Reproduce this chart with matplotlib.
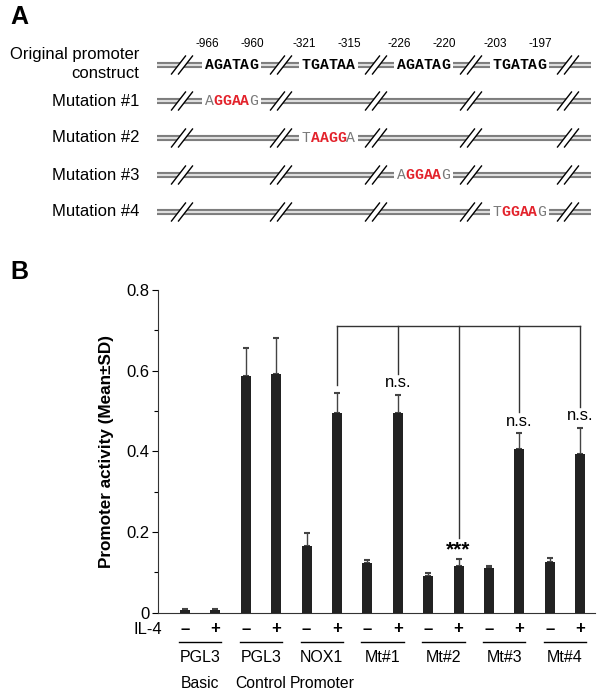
import matplotlib
matplotlib.use('Agg')
import matplotlib.pyplot as plt
from matplotlib.patches import Polygon, Rectangle
from matplotlib.transforms import blended_transform_factory
import numpy as np

plt.rcParams['font.family'] = ['Liberation Sans', 'DejaVu Sans']

# ---------------- data ----------------
groups = ['PGL3', 'PGL3', 'NOX1', 'Mt#1', 'Mt#2', 'Mt#3', 'Mt#4']
sublabels = ['Basic', 'Control', 'Promoter', '', '', '', '']
il4_signs = ['\u2013', '+']
mean_minus = [0.006, 0.587, 0.166, 0.122, 0.091, 0.110, 0.126]
mean_plus = [0.007, 0.592, 0.496, 0.494, 0.117, 0.407, 0.393]
sd_minus = [0.003, 0.069, 0.031, 0.009, 0.007, 0.005, 0.010]
sd_plus = [0.003, 0.090, 0.049, 0.045, 0.016, 0.038, 0.066]

bracket_level = 0.711
bracket_bars = [5, 7, 9, 11, 13]
bracket_ends = [0.564, 0.592, 0.185, 0.497, 0.510]
sig_bars = [7, 9, 11, 13]
sig_text = ['n.s.', '***', 'n.s.', 'n.s.']
sig_y = [0.570, 0.155, 0.475, 0.488]

row_labels = ['Original promoter\nconstruct', 'Mutation #1', 'Mutation #2',
              'Mutation #3', 'Mutation #4']
orig_seqs = ['AGATAG', 'TGATAA', 'AGATAG', 'TGATAG']
mut_seqs = ['AGGAAG', 'TAAGGA', 'AGGAAG', 'TGGAAG']
positions = [('-966', '-960'), ('-321', '-315'), ('-226', '-220'), ('-203', '-197')]

# ---------------- figure ----------------
W, H = 600, 690
fig = plt.figure(figsize=(6, 6.9), dpi=100)
bg = fig.add_axes([0, 0, 1, 1])
bg.set_xlim(0, W)
bg.set_ylim(H, 0)
bg.axis('off')

# ---------- Panel A (schematic) ----------
bg.text(10, 17, 'A', fontsize=18, fontweight='bold', va='center', ha='left')
bg.text(10, 272, 'B', fontsize=18, fontweight='bold', va='center', ha='left')

row_y = [65, 101, 138, 175, 212]
label_y = [64, 101, 137, 175, 212]
line_x0, line_x1 = 157, 591
breaks = [182, 281, 376, 471, 568]
seg_start = [205, 302, 397, 493]
cw = 8.85  # monospace char width (px)
red = '#e3222b'
grey = '#7a7a7a'

for r, y in enumerate(row_y):
    lab = row_labels[r]
    if r == 0:
        bg.text(139, 55, 'Original promoter', fontsize=12, ha='right', va='center')
        bg.text(139, 74, 'construct', fontsize=12, ha='right', va='center')
    else:
        bg.text(139, label_y[r], lab, fontsize=12, ha='right', va='center')
    # double line
    bg.plot([line_x0, line_x1], [y, y], color='#7d7d7d', lw=4.4, solid_capstyle='butt', zorder=2)
    bg.plot([line_x0, line_x1], [y, y], color='#dedede', lw=1.5, solid_capstyle='butt', zorder=3)
    # break marks
    for c in breaks:
        poly = Polygon([(c - 10.5, y + 8), (c + 3.5, y - 8), (c + 10.5, y - 8), (c - 3.5, y + 8)],
                       closed=True, facecolor='white', edgecolor='none', zorder=4)
        bg.add_patch(poly)
        for dx in (-7, 0):
            bg.plot([c - 3.5 + dx, c + 10.5 + dx], [y + 9, y - 9], color='black', lw=1.0, zorder=5)
    # sequences
    for s in range(4):
        if r == 0:
            seq = orig_seqs[s]
            cols = ['black'] * 6
            weights = ['bold'] * 6
        elif r - 1 == s:
            seq = mut_seqs[s]
            cols = [grey, red, red, red, red, grey]
            weights = ['normal', 'bold', 'bold', 'bold', 'bold', 'normal']
        else:
            continue
        x0 = seg_start[s]
        bg.add_patch(Rectangle((x0 - 3, y - 5), 6 * cw + 6, 10, facecolor='white',
                               edgecolor='none', zorder=4))
        for i, ch in enumerate(seq):
            bg.text(x0 + (i + 0.5) * cw, y, ch, fontsize=10.6, color=cols[i],
                    fontweight=weights[i], family='Liberation Mono',
                    ha='center', va='center', zorder=6)
        if r == 0:
            cen = x0 + 3 * cw
            bg.text(cen - 24, 44, positions[s][0], fontsize=8.5, ha='center', va='center')
            bg.text(cen + 21, 44, positions[s][1], fontsize=8.5, ha='center', va='center')

# ---------- Panel B (bar chart) ----------
y0_pix, y8_pix = 612.7, 290
ax = fig.add_axes([158 / W, 1 - y0_pix / H, (595 - 158) / W, (y0_pix - y8_pix) / H])
n = len(groups)
x = np.arange(2 * n)
vals = np.ravel(np.column_stack([mean_minus, mean_plus]))
sds = np.ravel(np.column_stack([sd_minus, sd_plus]))

ax.bar(x, vals, width=0.33, color='#222222', zorder=3)
ax.errorbar(x, vals, yerr=[np.zeros_like(sds), sds], fmt='none', ecolor='#444444',
            elinewidth=1, capsize=2.2, capthick=1.5, zorder=2)

ax.set_xlim(-0.889, 13.49)
ax.set_ylim(0, 0.8)
ax.spines['top'].set_visible(False)
ax.spines['right'].set_visible(False)
ax.spines['left'].set_color('#333333')
ax.spines['bottom'].set_color('#333333')
ax.set_xticks([])
ax.set_yticks([0, 0.2, 0.4, 0.6, 0.8])
ax.set_yticklabels(['0', '0.2', '0.4', '0.6', '0.8'], fontsize=12)
ax.set_yticks([0.1, 0.3, 0.5, 0.7], minor=True)
ax.tick_params(axis='y', which='major', direction='out', length=4, width=0.8, pad=2)
ax.tick_params(axis='y', which='minor', direction='out', length=3, width=0.8)
ax.set_ylabel('Promoter activity (Mean\u00b1SD)', fontsize=12.3, fontweight='bold', labelpad=9)

# bracket
ax.plot([bracket_bars[0], bracket_bars[-1]], [bracket_level, bracket_level], color='#333333', lw=1)
for b, e in zip(bracket_bars, bracket_ends):
    ax.plot([b, b], [bracket_level, e], color='#333333', lw=1)
for b, t, yy in zip(sig_bars, sig_text, sig_y):
    if t == '***':
        ax.text(b, yy, t, fontsize=15, fontweight='bold', ha='center', va='center')
    else:
        ax.text(b, yy, t, fontsize=12, ha='center', va='center')

# labels below axis
trans = blended_transform_factory(ax.transData, bg.transData)
ax.text(-0.75, 629, 'IL-4', fontsize=12, ha='right', va='center', transform=trans)
for g in range(n):
    for k in range(2):
        ax.text(2 * g + k, 629, il4_signs[k], fontsize=12, fontweight='bold',
                ha='center', va='center', transform=trans)
    ax.plot([2 * g - 0.2, 2 * g + 1.2], [642, 642], color='black', lw=1,
            transform=trans, clip_on=False)
    ax.text(2 * g + 0.5, 657, groups[g], fontsize=11.5, ha='center', va='center', transform=trans)
    if sublabels[g]:
        ax.text(2 * g + 0.5, 684, sublabels[g], fontsize=11.3, ha='center', va='center',
                transform=trans)

fig.savefig('out.png', dpi=100)
